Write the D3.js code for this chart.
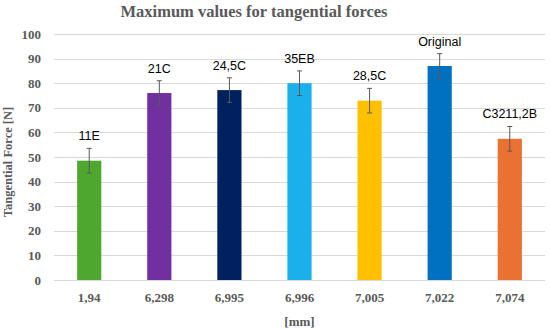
<!DOCTYPE html>
<html>
<head>
<meta charset="utf-8">
<script src="https://cdn.jsdelivr.net/npm/d3@7"></script>
<style>
  body { margin: 0; background: #fff; }
  svg { display: block; }
</style>
</head>
<body>
<svg id="chart" width="550" height="330"></svg>
<script>
var categories = ["1,94", "6,298", "6,995", "6,996", "7,005", "7,022", "7,074"];
var labels = ["11E", "21C", "24,5C", "35EB", "28,5C", "Original", "C3211,2B"];
var values = [48.5, 76, 77.2, 80, 72.9, 87, 57.4];
var errors = [5, 5, 5, 5, 5, 5, 5];
var colors = ["#4ea72e", "#7030a0", "#002060", "#1ab0eb", "#ffc000", "#0070c0", "#e97132"];
var yTicks = [0, 10, 20, 30, 40, 50, 60, 70, 80, 90, 100];

var WIDTH = 550, HEIGHT = 330,
    MARGINS = { top: 34, right: 5, bottom: 50, left: 54 };

var svg = d3.select("#chart");
var serif = "'Liberation Serif', 'DejaVu Serif', serif";

var data = categories.map(function(c, i) {
  return { cat: c, label: labels[i], value: values[i], err: errors[i], color: colors[i] };
});

var xScale = d3.scaleBand()
  .domain(categories)
  .range([MARGINS.left, WIDTH - MARGINS.right])
  .paddingInner(0.655)
  .paddingOuter(0.33);

var yScale = d3.scaleLinear()
  .domain([0, 100])
  .range([HEIGHT - MARGINS.bottom, MARGINS.top]);

// gridlines
svg.append("g")
  .selectAll("line")
  .data(yTicks)
  .enter().append("line")
  .attr("x1", MARGINS.left)
  .attr("x2", WIDTH - MARGINS.right)
  .attr("y1", function(d) { return Math.round(yScale(d)) + 0.5; })
  .attr("y2", function(d) { return Math.round(yScale(d)) + 0.5; })
  .attr("stroke", "#d9d9d9")
  .attr("stroke-width", 1);

// y axis labels
var yAxis = d3.axisLeft(yScale).tickValues(yTicks).tickSize(0).tickPadding(13);
var gy = svg.append("g")
  .attr("transform", "translate(" + MARGINS.left + ",0)")
  .call(yAxis);
gy.select(".domain").remove();
gy.selectAll("text")
  .attr("fill", "#595959")
  .style("font-family", serif)
  .style("font-size", "13px")
  .style("font-weight", "bold");

// x axis labels
var xAxis = d3.axisBottom(xScale).tickSize(0).tickPadding(13);
var gx = svg.append("g")
  .attr("transform", "translate(0," + (HEIGHT - MARGINS.bottom) + ")")
  .call(xAxis);
gx.select(".domain").remove();
gx.selectAll("text")
  .attr("fill", "#595959")
  .style("font-family", serif)
  .style("font-size", "13px")
  .style("font-weight", "bold");

// bars
svg.selectAll(".bar")
  .data(data)
  .enter().append("rect")
  .attr("class", "bar")
  .attr("x", function(d) { return xScale(d.cat); })
  .attr("width", xScale.bandwidth())
  .attr("y", function(d) { return yScale(d.value); })
  .attr("height", function(d) { return yScale(0) - yScale(d.value); })
  .attr("fill", function(d) { return d.color; });

// error bars
var eb = svg.selectAll(".err")
  .data(data)
  .enter().append("g")
  .attr("class", "err")
  .attr("stroke", "#595959")
  .attr("stroke-width", 1);
eb.append("line")
  .attr("x1", function(d) { return xScale(d.cat) + xScale.bandwidth() / 2; })
  .attr("x2", function(d) { return xScale(d.cat) + xScale.bandwidth() / 2; })
  .attr("y1", function(d) { return yScale(d.value + d.err); })
  .attr("y2", function(d) { return yScale(d.value - d.err); });
eb.selectAll(".cap")
  .data(function(d) { return [d.value + d.err, d.value - d.err].map(function(v) { return { cat: d.cat, v: v }; }); })
  .enter().append("line")
  .attr("x1", function(d) { return xScale(d.cat) + xScale.bandwidth() / 2 - 2.5; })
  .attr("x2", function(d) { return xScale(d.cat) + xScale.bandwidth() / 2 + 2.5; })
  .attr("y1", function(d) { return yScale(d.v); })
  .attr("y2", function(d) { return yScale(d.v); });

// data labels
svg.selectAll(".label")
  .data(data)
  .enter().append("text")
  .attr("class", "label")
  .attr("x", function(d) { return xScale(d.cat) + xScale.bandwidth() / 2; })
  .attr("y", function(d) { return yScale(d.value + d.err) - 8; })
  .attr("text-anchor", "middle")
  .style("font-family", "'Liberation Sans', Arial, sans-serif")
  .style("font-size", "12.5px")
  .attr("fill", "#000")
  .text(function(d) { return d.label; });

// title
svg.append("text")
  .attr("x", 254)
  .attr("y", 17)
  .attr("text-anchor", "middle")
  .attr("fill", "#595959")
  .style("font-family", serif)
  .style("font-size", "16.5px")
  .style("font-weight", "bold")
  .text("Maximum values for tangential forces");

// axis titles
svg.append("text")
  .attr("x", (MARGINS.left + WIDTH - MARGINS.right) / 2)
  .attr("y", 326)
  .attr("text-anchor", "middle")
  .attr("fill", "#595959")
  .style("font-family", serif)
  .style("font-size", "13px")
  .style("font-weight", "bold")
  .text("[mm]");

svg.append("text")
  .attr("transform", "translate(12," + ((MARGINS.top + HEIGHT - MARGINS.bottom) / 2 + 5) + ") rotate(-90)")
  .attr("text-anchor", "middle")
  .attr("fill", "#595959")
  .style("font-family", serif)
  .style("font-size", "12.5px")
  .style("font-weight", "bold")
  .text("Tangential Force [N]");
</script>
</body>
</html>
